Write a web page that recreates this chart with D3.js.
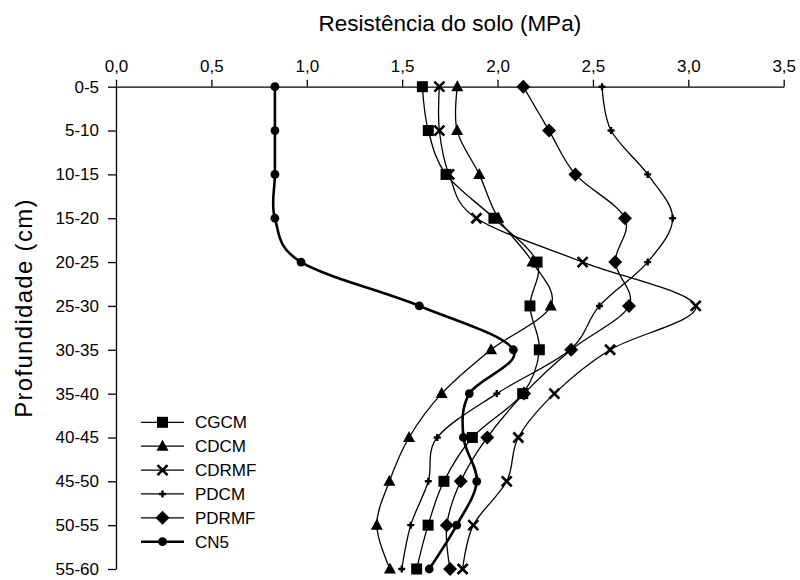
<!DOCTYPE html>
<html>
<head>
<meta charset="utf-8">
<script src="https://cdn.jsdelivr.net/npm/d3@7"></script>
<style>
  body { margin: 0; background: #fff; }
  svg { display: block; font-family: "Liberation Sans", Arial, sans-serif; }
</style>
</head>
<body>
<svg id="chart" width="800" height="580"></svg>
<script>
// ---- data ----
const depths = ["0-5","5-10","10-15","15-20","20-25","25-30","30-35","35-40","40-45","45-50","50-55","55-60"];
const xTicks = [0, 0.5, 1.0, 1.5, 2.0, 2.5, 3.0, 3.5];
const seriesNames = ["CGCM", "CDCM", "CDRMF", "PDCM", "PDRMF", "CN5"];
const CGCM  = [1.606, 1.637, 1.730, 1.981, 2.207, 2.170, 2.219, 2.132, 1.868, 1.719, 1.636, 1.576];
const CDCM  = [1.789, 1.788, 1.904, 2.004, 2.183, 2.279, 1.966, 1.707, 1.536, 1.433, 1.367, 1.436];
const CDRMF = [1.695, 1.695, 1.746, 1.889, 2.446, 3.039, 2.590, 2.298, 2.109, 2.048, 1.873, 1.817];
const PDCM  = [2.548, 2.595, 2.787, 2.918, 2.787, 2.534, 2.380, 1.996, 1.684, 1.637, 1.545, 1.498];
const PDRMF = [2.135, 2.270, 2.408, 2.668, 2.617, 2.689, 2.386, 2.139, 1.946, 1.807, 1.734, 1.751];
const CN5   = [0.833, 0.833, 0.833, 0.833, 0.970, 1.590, 2.083, 1.852, 1.821, 1.891, 1.786, 1.642];
const seriesValues = [CGCM, CDCM, CDRMF, PDCM, PDRMF, CN5];
const xTitle = "Resistência do solo (MPa)";
const yTitle = "Profundidade (cm)";

// ---- drawing ----
const svg = d3.select("#chart");
const pLeft = 116, pRight = 783.7, pTop = 86.7, pBottom = 569;

const x = d3.scaleLinear().domain([0, 3.5]).range([pLeft, pRight]);
const y = d3.scalePoint().domain(depths).range([pTop, pBottom]);

const fmt = d => d.toFixed(1).replace(".", ",");

const xAxis = svg.append("g")
  .attr("transform", `translate(0,${pTop})`)
  .call(d3.axisTop(x).tickValues(xTicks).tickFormat(fmt).tickSize(7).tickSizeOuter(0).tickPadding(8));
const yAxis = svg.append("g")
  .attr("transform", `translate(${pLeft},0)`)
  .call(d3.axisLeft(y).tickSize(8).tickSizeOuter(0).tickPadding(9));

[xAxis, yAxis].forEach(g => {
  g.selectAll("path.domain").attr("stroke", "#000").attr("stroke-width", 1.3);
  g.selectAll(".tick line").attr("stroke", "#000").attr("stroke-width", 1.3);
  g.selectAll(".tick text").attr("fill", "#000")
    .style("font-size", "17px").style("font-family", '"Liberation Sans", Arial, sans-serif');
});

// titles
svg.append("text").attr("x", (pLeft + pRight) / 2).attr("y", 31)
  .attr("text-anchor", "middle").style("font-size", "22.5px").text(xTitle);
svg.append("text")
  .attr("transform", `translate(32,308) rotate(-90)`)
  .attr("text-anchor", "middle").style("font-size", "24px").style("letter-spacing", "1.3px").text(yTitle);

// marker drawing
function drawMarker(g, type, cx, cy) {
  if (type === "CGCM") {
    g.append("rect").attr("x", cx - 5.5).attr("y", cy - 5.5).attr("width", 11).attr("height", 11).attr("fill", "#000");
  } else if (type === "CDCM") {
    g.append("path").attr("d", `M${cx},${cy - 6.5}L${cx + 6},${cy + 4.5}L${cx - 6},${cy + 4.5}Z`).attr("fill", "#000");
  } else if (type === "CDRMF") {
    g.append("path").attr("d", `M${cx - 5},${cy - 5}L${cx + 5},${cy + 5}M${cx + 5},${cy - 5}L${cx - 5},${cy + 5}`)
      .attr("stroke", "#000").attr("stroke-width", 2.6).attr("fill", "none");
  } else if (type === "PDCM") {
    g.append("path").attr("d", `M${cx - 3.5},${cy}L${cx + 3.5},${cy}M${cx},${cy - 3.5}L${cx},${cy + 3.5}`)
      .attr("stroke", "#000").attr("stroke-width", 2.4).attr("fill", "none");
  } else if (type === "PDRMF") {
    g.append("path").attr("d", `M${cx},${cy - 7}L${cx + 7},${cy}L${cx},${cy + 7}L${cx - 7},${cy}Z`).attr("fill", "#000");
  } else if (type === "CN5") {
    g.append("circle").attr("cx", cx).attr("cy", cy).attr("r", 4.4).attr("fill", "#000");
  }
}

const line = d3.line()
  .x(d => x(d.v))
  .y(d => y(d.depth))
  .curve(d3.curveCardinal.tension(0));

const plot = svg.append("g");
seriesNames.forEach((name, i) => {
  const pts = depths.map((dep, j) => ({ depth: dep, v: seriesValues[i][j] }));
  plot.append("path").datum(pts)
    .attr("d", line)
    .attr("fill", "none")
    .attr("stroke", "#000")
    .attr("stroke-width", name === "CN5" ? 2.6 : 1.3);
});
seriesNames.forEach((name, i) => {
  const g = plot.append("g");
  depths.forEach((dep, j) => drawMarker(g, name, x(seriesValues[i][j]), y(dep)));
});

// legend
const legend = svg.append("g");
const legY = d3.scalePoint().domain(seriesNames).range([422.3, 541.7]);
seriesNames.forEach(name => {
  const ly = legY(name);
  legend.append("line").attr("x1", 141).attr("x2", 184).attr("y1", ly).attr("y2", ly)
    .attr("stroke", "#000").attr("stroke-width", name === "CN5" ? 2.6 : 1.3);
  drawMarker(legend, name, 162.5, ly);
  legend.append("text").attr("x", 195).attr("y", ly).attr("dy", "0.35em")
    .style("font-size", "17px").text(name);
});
</script>
</body>
</html>
